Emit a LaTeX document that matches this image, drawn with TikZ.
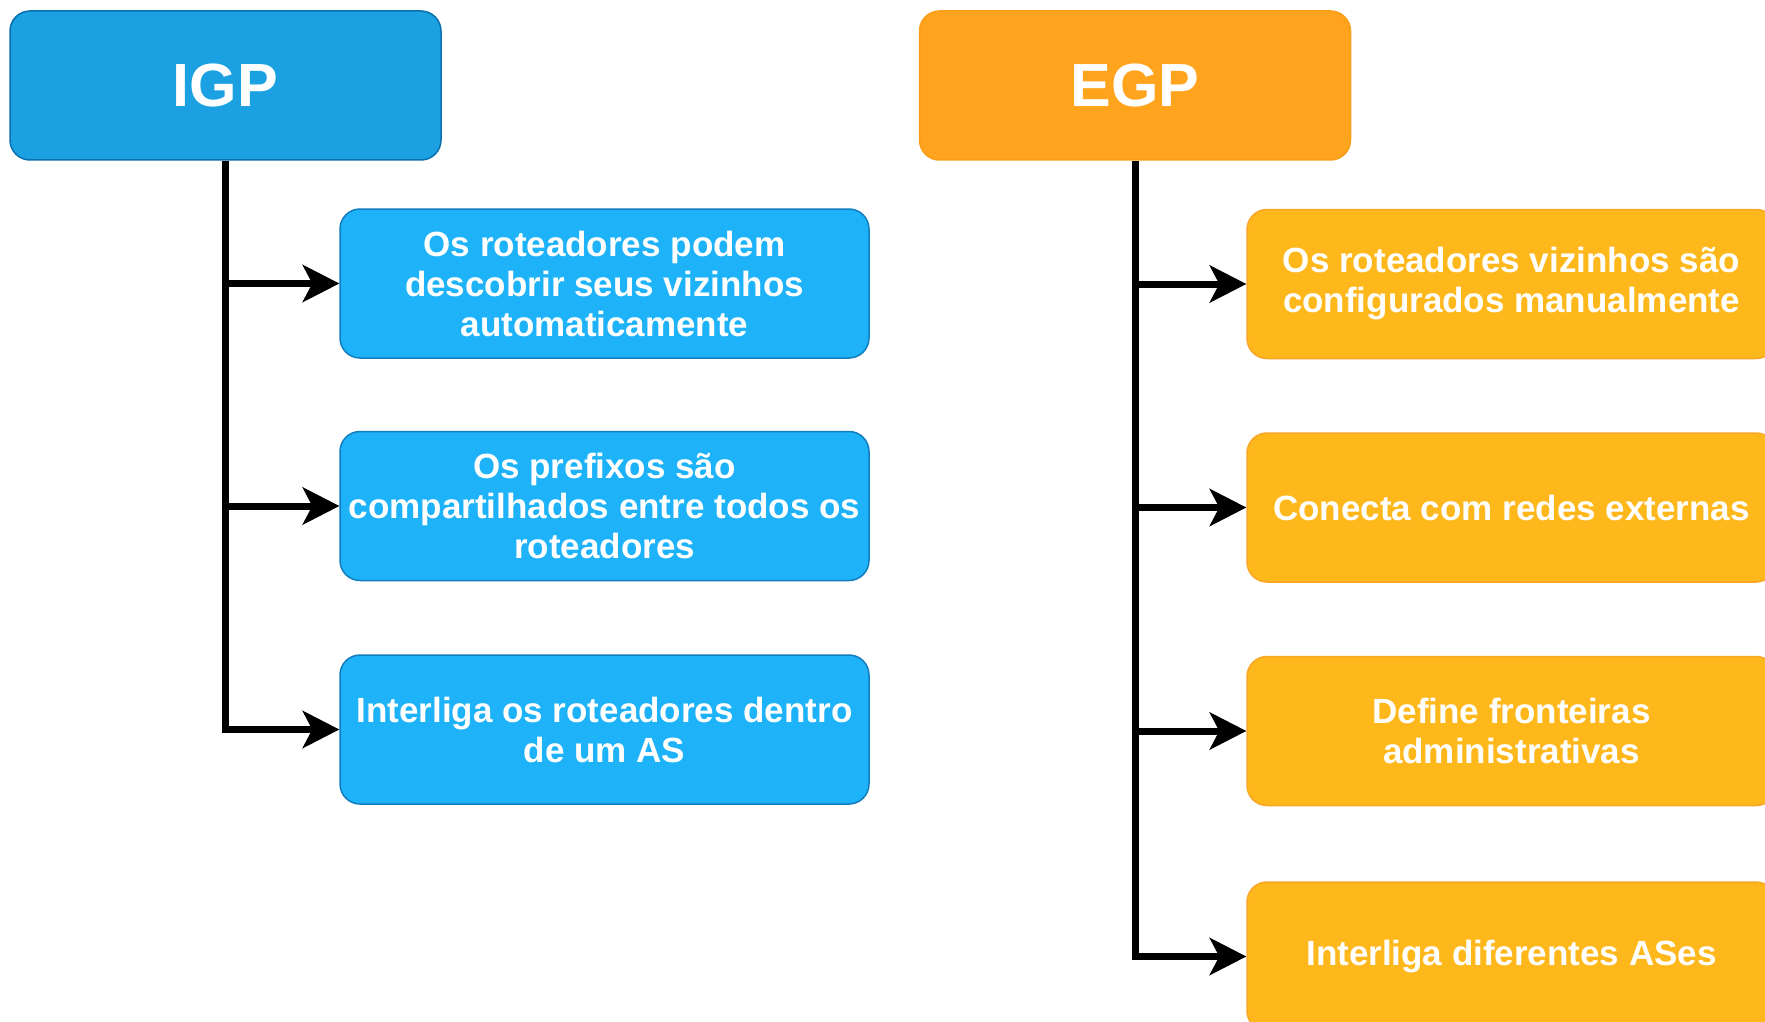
\documentclass[tikz,border=0pt]{standalone}
\usepackage{fontspec}
\setmainfont{Liberation Sans}
\usepackage{xcolor}
\usepackage{tikz}
\usetikzlibrary{positioning, arrows.meta}
\definecolor{igpfill}{HTML}{1BA1E2}
\definecolor{igpline}{HTML}{0A6FAE}
\definecolor{ifill}{HTML}{1EB3F8}
\definecolor{iline}{HTML}{117DBE}
\definecolor{egpfill}{HTML}{FFA41C}
\definecolor{egpline}{HTML}{F99E1A}
\definecolor{efill}{HTML}{FFB81C}
\definecolor{eline}{HTML}{F9A626}
\tikzstyle{headbox}=[rounded corners=20pt, minimum width=431pt, minimum height=149pt,
text=white, line width=1.5pt, font=\fontsize{61}{70}\selectfont\bfseries]
\tikzstyle{itembox}=[rounded corners=20pt, minimum height=149pt, inner sep=4pt,
text=white, align=center, line width=1.5pt, font=\fontsize{35}{40}\selectfont\bfseries]
\tikzstyle{igpitem}=[itembox, minimum width=529pt, fill=ifill, draw=iline]
\tikzstyle{egpitem}=[itembox, minimum width=529pt, fill=efill, draw=eline]
\tikzstyle{branch}=[line width=7pt, -{Stealth[length=37pt, width=38pt, inset=10pt, line width=1pt]}]

\begin{document}
\begin{tikzpicture}[x=1pt, y=-1pt, node distance=73pt]
\useasboundingbox (0,0) rectangle (1765,1022);

% IGP side
\node[headbox, fill=igpfill, draw=igpline] (igp) at (225.5,85.5) {IGP};
\node[igpitem] (i1) at (604.5,283.5) {Os roteadores podem\\descobrir seus vizinhos\\automaticamente};
\node[igpitem, below=72pt of i1] (i2) {Os prefixos são\\compartilhados entre todos os\\roteadores};
\node[igpitem, below=of i2] (i3) {Interliga os roteadores dentro\\de um AS};

\draw[branch] (igp.south) |- (i3.west);
\draw[branch] (igp.south |- i1.west) -- (i1.west);
\draw[branch] (igp.south |- i2.west) -- (i2.west);

% EGP side
\node[headbox, fill=egpfill, draw=egpline] (egp) at (1135,85.5) {EGP};
\node[egpitem] (e1) at (1511.5,284) {Os roteadores vizinhos são\\configurados manualmente};
\node[egpitem, below=of e1] (e2) {Conecta com redes externas};
\node[egpitem, below=of e2] (e3) {Define fronteiras\\administrativas};
\node[egpitem, below=75pt of e3] (e4) {Interliga diferentes ASes};

\draw[branch] (egp.south) |- (e4.west);
\foreach \n in {e1,e2,e3}
  \draw[branch] (egp.south |- \n.west) -- (\n.west);
\end{tikzpicture}
\end{document}
